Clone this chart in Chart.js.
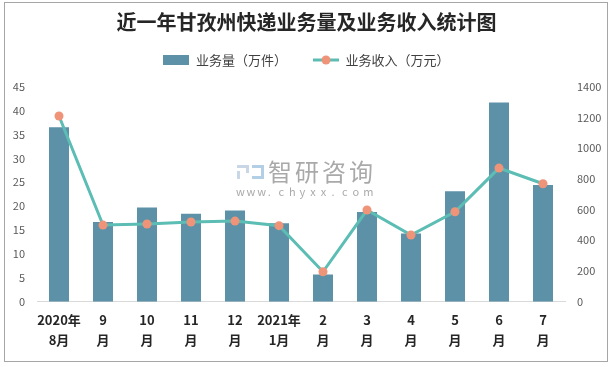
<!DOCTYPE html>
<html lang="zh">
<head>
  <meta charset="UTF-8" />
  <title>近一年甘孜州快递业务量及业务收入统计图</title>
  <script src="https://cdn.jsdelivr.net/npm/chart.js"></script>
  <style>
    body { margin: 0; background: #fff; }
    #wrap { width: 613px; height: 367px; }
  </style>
</head>
<body>
  <div id="wrap"><canvas id="chart" width="613" height="367"></canvas></div>

  <script>
    const months = [
      ['2020年', '8月'], ['9', '月'], ['10', '月'], ['11', '月'], ['12', '月'],
      ['2021年', '1月'], ['2', '月'], ['3', '月'], ['4', '月'], ['5', '月'], ['6', '月'], ['7', '月']
    ];
    const volume = [36.5, 16.7, 19.7, 18.4, 19.1, 16.4, 5.7, 18.8, 14.3, 23.1, 41.7, 24.4];   // 万件
    const revenue = [1209, 499, 506, 519, 525, 495, 195, 597, 434, 586, 870, 768];            // 万元
    const volumeLabel = '业务量（万件）';
    const revenueLabel = '业务收入（万元）';

    const FONT = "'Noto Sans CJK SC', 'Noto Sans', sans-serif";
    const barColor = '#5d91a8';
    const lineColor = '#5bbdb3';
    const dotColor = '#ef9479';

    // little legend swatches
    function swatchBar() {
      const c = document.createElement('canvas');
      c.width = 26; c.height = 10;
      const x = c.getContext('2d');
      x.fillStyle = barColor;
      x.fillRect(0, 0, 26, 10);
      return c;
    }
    function swatchLine() {
      const c = document.createElement('canvas');
      c.width = 26; c.height = 10;
      const x = c.getContext('2d');
      x.strokeStyle = lineColor; x.lineWidth = 3;
      x.beginPath(); x.moveTo(0, 5); x.lineTo(26, 5); x.stroke();
      x.fillStyle = dotColor;
      x.beginPath(); x.arc(13, 5, 4.5, 0, Math.PI * 2); x.fill();
      return c;
    }
    const swatches = [swatchBar(), swatchLine()];

    const frame = {
      id: 'frame',
      beforeInit(chart) {
        const fit = chart.legend.fit;
        chart.legend.fit = function () {
          fit.bind(chart.legend)();
          this.height = 59.2;
        };
      },
      beforeDraw(chart) {
        const ctx = chart.ctx;
        ctx.save();
        ctx.fillStyle = '#fff';
        ctx.fillRect(0, 0, chart.width, chart.height);
        ctx.strokeStyle = '#a6a6a6';
        ctx.lineWidth = 1;
        ctx.strokeRect(4.5, 2.5, 603, 359);
        ctx.restore();
      },
      beforeDatasetsDraw(chart) {
        // watermark
        const ctx = chart.ctx;
        ctx.save();
        ctx.fillStyle = '#c9d6e6';
        ctx.fillRect(237, 165, 12, 3);
        ctx.fillRect(246, 165, 3, 8);
        ctx.fillRect(237, 171, 3, 8);
        ctx.fillStyle = '#b3cfe6';
        ctx.fillRect(252, 165, 12, 3);
        ctx.fillRect(261, 165, 3, 14);
        ctx.fillRect(252, 176, 12, 3);
        ctx.fillStyle = 'rgba(140,140,140,0.75)';
        ctx.font = "24px " + FONT;
        ctx.textBaseline = 'middle';
        ctx.textAlign = 'left';
        const wm = '智研咨询';
        for (let i = 0; i < wm.length; i++) ctx.fillText(wm[i], 268 + i * 27, 172);
        ctx.font = "11px " + FONT;
        const url = 'www.chyxx.com';
        for (let i = 0; i < url.length; i++) ctx.fillText(url[i], 236 + i * 10.6, 192);
        ctx.restore();
      }
    };

    new Chart(document.getElementById('chart'), {
      data: {
        labels: months,
        datasets: [
          {
            type: 'bar',
            label: volumeLabel,
            data: volume,
            yAxisID: 'y',
            backgroundColor: barColor,
            barPercentage: 0.455,
            categoryPercentage: 1,
            order: 1
          },
          {
            type: 'line',
            label: revenueLabel,
            data: revenue,
            yAxisID: 'y1',
            borderColor: lineColor,
            borderWidth: 3,
            pointRadius: 4.5,
            pointBackgroundColor: dotColor,
            pointBorderColor: dotColor,
            pointBorderWidth: 0,
            tension: 0,
            order: 0
          }
        ]
      },
      options: {
        responsive: false,
        animation: false,
        layout: { padding: 0 },
        plugins: {
          title: {
            display: true,
            text: '近一年甘孜州快递业务量及业务收入统计图',
            color: '#262626',
            font: { family: FONT, size: 20, weight: 'bold', lineHeight: 1.2 },
            padding: { top: 10, bottom: -6.5 }
          },
          legend: {
            display: true,
            labels: {
              usePointStyle: true,
              pointStyleWidth: 26,
              padding: 26,
              color: '#404040',
              font: { family: FONT, size: 13 },
              generateLabels: (chart) => chart.data.datasets.map((ds, i) => ({
                text: ds.label,
                pointStyle: swatches[i],
                fontColor: '#404040',
                datasetIndex: i,
                hidden: false,
                lineWidth: 0
              }))
            }
          },
          tooltip: { enabled: false }
        },
        scales: {
          x: {
            grid: { display: false, drawTicks: false },
            border: { display: true, color: '#d9d9d9', width: 1 },
            ticks: {
              color: '#262626',
              padding: 9,
              maxRotation: 0,
              autoSkip: false,
              font: { family: FONT, size: 13, weight: 'bold', lineHeight: 1.5 }
            },
            afterFit: (s) => { s.height = 65.3; }
          },
          y: {
            position: 'left',
            min: 0, max: 45,
            grid: { display: false, drawTicks: false },
            border: { display: false },
            ticks: { stepSize: 5, padding: 12, color: '#595959', font: { family: FONT, size: 11 } },
            afterFit: (s) => { s.width = 37; }
          },
          y1: {
            position: 'right',
            min: 0, max: 1400,
            grid: { display: false, drawTicks: false },
            border: { display: false },
            ticks: {
              stepSize: 200, padding: 12, color: '#595959', font: { family: FONT, size: 11 },
              callback: (v) => String(v)
            },
            afterFit: (s) => { s.width = 48; }
          }
        }
      },
      plugins: [frame]
    });
  </script>
</body>
</html>
